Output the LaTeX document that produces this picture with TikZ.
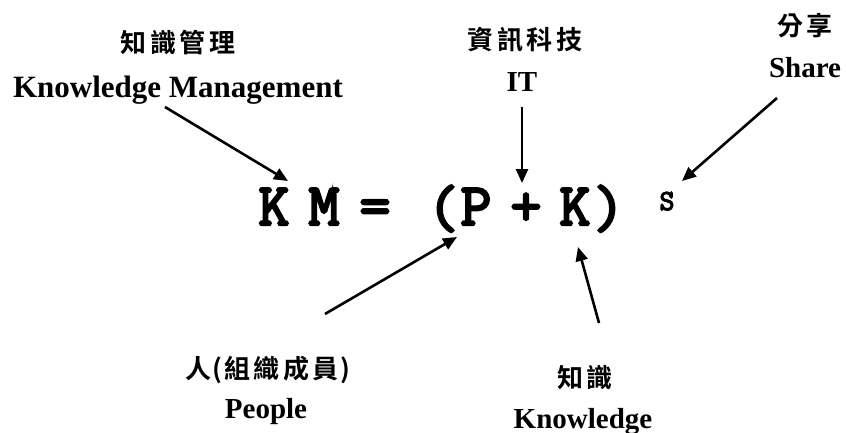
\documentclass[tikz,border=0pt]{standalone}
\usepackage{fontspec}
\setmainfont{Liberation Serif}
\newfontfamily\cjkf{Noto Sans CJK TC}[BoldFont={* Bold}]
\newfontfamily\monof{Latin Modern Mono}[FakeBold=4]
\usetikzlibrary{arrows.meta}
\newcommand\cg{\hskip3.5pt}
\begin{document}
\begin{tikzpicture}[x=1pt,y=-1pt,
  lbl/.style={font=\fontsize{29}{32}\selectfont\bfseries, inner sep=0pt, anchor=base},
  cjklbl/.style={font=\fontsize{26}{28}\selectfont\cjkf\bfseries, inner sep=0pt, anchor=center},
  eqch/.style={font=\fontsize{60}{64}\selectfont\monof, inner sep=0pt, anchor=base},
  supch/.style={font=\fontsize{29}{31}\selectfont\monof, inner sep=0pt, anchor=base},
  arr/.style={line width=2.6pt, -{Triangle[length=14pt,width=12pt]}}]
\path[use as bounding box, fill=white] (0,0) rectangle (846,433);

% formula
\node[eqch] (k1) at (274,225) {K};
\node[eqch] (m)  at (324,225) {M};
\node[eqch] (eq) at (375,225) {=};
\node[eqch] (lp) at (443,227) {(};
\node[eqch] (p)  at (476,225) {P};
\node[eqch] (pl) at (526,225) {+};
\node[eqch] (k2) at (575,225) {K};
\node[eqch] (rp) at (609,227) {)};
\node[supch] (s) at (667,210) {S};

% labels
\node[cjklbl] (kmzh) at (178,43) {知\cg 識\cg 管\cg 理};
\node[lbl, font=\fontsize{31}{34}\selectfont\bfseries] (kmen) at (178,98) {Knowledge Management};
\node[cjklbl] (itzh) at (525,40) {資\cg 訊\cg 科\cg 技};
\node[lbl] (iten) at (522,92) {IT};
\node[cjklbl] (shzh) at (805,26) {分\cg 享};
\node[lbl] (shen) at (805,78) {Share};
\node[cjklbl] (pezh) at (268,370) {人\hskip1pt(\hskip2pt組\cg 織\cg 成\cg 員\hskip2pt)};
\node[lbl] (peen) at (266,418) {People};
\node[cjklbl] (knzh) at (585,378) {知\cg 識};
\node[lbl] (knen) at (583,428) {Knowledge};

% arrow end points
\coordinate (a1s) at (165,107); \coordinate (a1e) at (288,181);
\coordinate (a2s) at (522,107); \coordinate (a2e) at (522,183);
\coordinate (a3s) at (777,98);  \coordinate (a3e) at (682,181);
\coordinate (a4s) at (325,314); \coordinate (a4e) at (457,237);
\coordinate (a5s) at (599,323); \coordinate (a5e) at (578,247);

\draw[arr] (a1s) -- (a1e);
\draw[arr] (a2s) -- (a2e);
\draw[arr] (a3s) -- (a3e);
\draw[arr] (a4s) -- (a4e);
\draw[arr] (a5s) -- (a5e);
\end{tikzpicture}
\end{document}
